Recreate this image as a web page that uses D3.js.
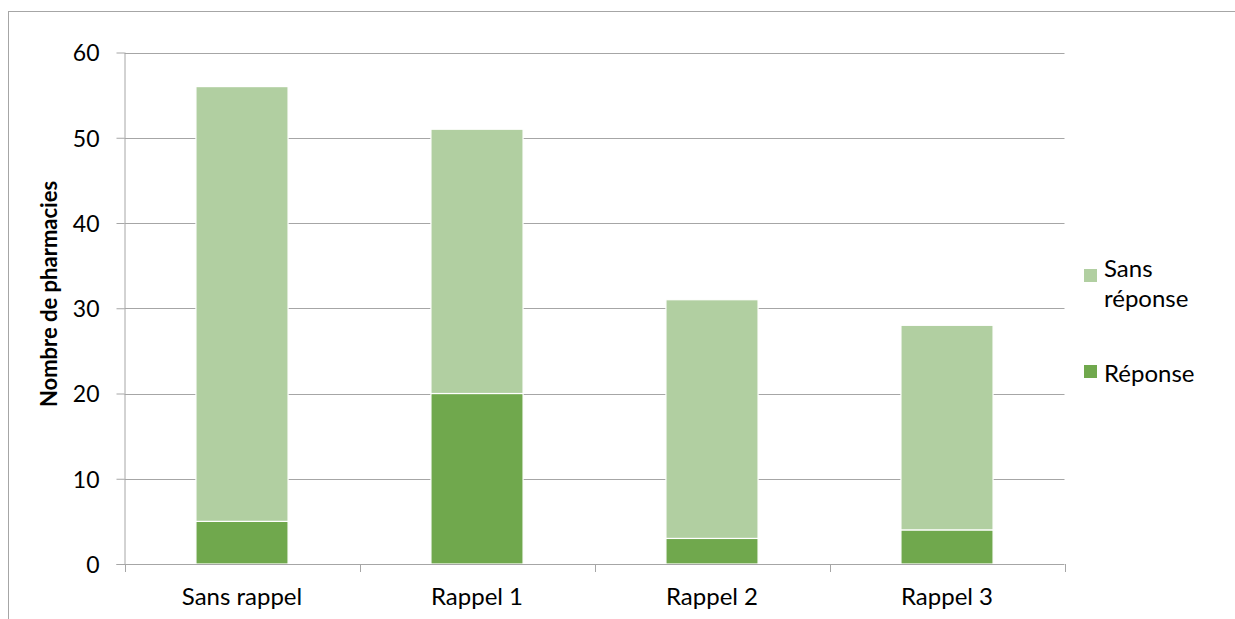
<!DOCTYPE html>
<html><head><meta charset="utf-8">
<script src="https://cdn.jsdelivr.net/npm/d3@7"></script>
<style>body{margin:0;background:#fff}svg{display:block}text{font-family:Lato,"Open Sans",sans-serif}</style>
</head><body>
<svg id="c" width="1235" height="619"></svg>
<script>
const categories = ["Sans rappel","Rappel 1","Rappel 2","Rappel 3"];
const reponse = [5,20,3,4];
const sansReponse = [51,31,28,24];
const yTicks = [0,10,20,30,40,50,60];
const seriesNames = ["Réponse","Sans réponse"];
const colors = {"Réponse":"#70a84d","Sans réponse":"#b1cfa1"};

const svg = d3.select("#c");
svg.append("rect").attr("x",8.5).attr("y",11.5).attr("width",1300).attr("height",700)
  .attr("fill","none").attr("stroke","#a6a6a6").attr("stroke-width",1);

const m = {l:124.5, r:1064.5, t:52.5, b:564};
const x = d3.scaleBand().domain(categories).range([m.l,m.r]).paddingInner(0.608).paddingOuter(0.304);
const y = d3.scaleLinear().domain([0,60]).range([m.b,m.t]);

// gridlines
svg.append("g").selectAll("line").data(yTicks.filter(d=>d>0)).join("line")
  .attr("x1",m.l).attr("x2",m.r).attr("y1",d=>Math.round(y(d))+0.5).attr("y2",d=>Math.round(y(d))+0.5)
  .attr("stroke","#a6a6a6").attr("stroke-width",1);

const rows = categories.map((c,i)=>({cat:c,"Réponse":reponse[i],"Sans réponse":sansReponse[i]}));
const stack = d3.stack().keys(seriesNames)(rows);
svg.append("g").selectAll("g").data(stack).join("g").attr("fill",d=>colors[d.key])
  .selectAll("rect").data(d=>d).join("rect")
  .attr("x",d=>x(d.data.cat)).attr("width",x.bandwidth())
  .attr("y",d=>y(d[1])).attr("height",d=>y(d[0])-y(d[1]))
  .attr("stroke","#fff").attr("stroke-width",1.2);

// y axis
const ya = d3.axisLeft(y).tickValues(yTicks).tickSize(8).tickPadding(17).tickFormat(d3.format("d"));
const yg = svg.append("g").attr("transform",`translate(${m.l},0)`).call(ya);
yg.select(".domain").attr("stroke","#a6a6a6").attr("d",`M0.5,${m.t}V${m.b}`);
yg.selectAll(".tick line").attr("stroke","#a6a6a6");
yg.selectAll(".tick text").attr("font-size",23).attr("fill","#000").attr("dy","0.36em");

// x axis
const xg = svg.append("g");
xg.append("line").attr("x1",m.l-8).attr("x2",m.r).attr("y1",m.b+0.5).attr("y2",m.b+0.5).attr("stroke","#a6a6a6");
const step = (m.r-m.l)/categories.length;
xg.selectAll("line.t").data(d3.range(categories.length+1)).join("line").attr("class","t")
  .attr("x1",i=>Math.round(m.l+i*step)+0.5).attr("x2",i=>Math.round(m.l+i*step)+0.5)
  .attr("y1",m.b).attr("y2",m.b+8).attr("stroke","#a6a6a6");
xg.selectAll("text").data(categories).join("text")
  .attr("x",d=>x(d)+x.bandwidth()/2).attr("y",m.b+41).attr("text-anchor","middle")
  .attr("font-size",24).attr("fill","#000").text(d=>d);

// axis title
svg.append("text").attr("transform",`translate(51,294) rotate(-90)`)
  .attr("text-anchor","middle").attr("dominant-baseline","middle")
  .attr("font-size",22).attr("font-weight","bold").attr("fill","#000").text("Nombre de pharmacies");

// legend
const leg = [
  {name:"Sans réponse", lines:["Sans","réponse"], sq:269, base:277},
  {name:"Réponse", lines:["Réponse"], sq:365, base:382}
];
const lg = svg.append("g");
leg.forEach(l=>{
  lg.append("rect").attr("x",1084).attr("y",l.sq).attr("width",13).attr("height",13).attr("fill",colors[l.name]);
  l.lines.forEach((t,j)=>{
    lg.append("text").attr("x",1104).attr("y",l.base+j*30).attr("font-size",24).attr("fill","#000").text(t);
  });
});
</script>
</body></html>
